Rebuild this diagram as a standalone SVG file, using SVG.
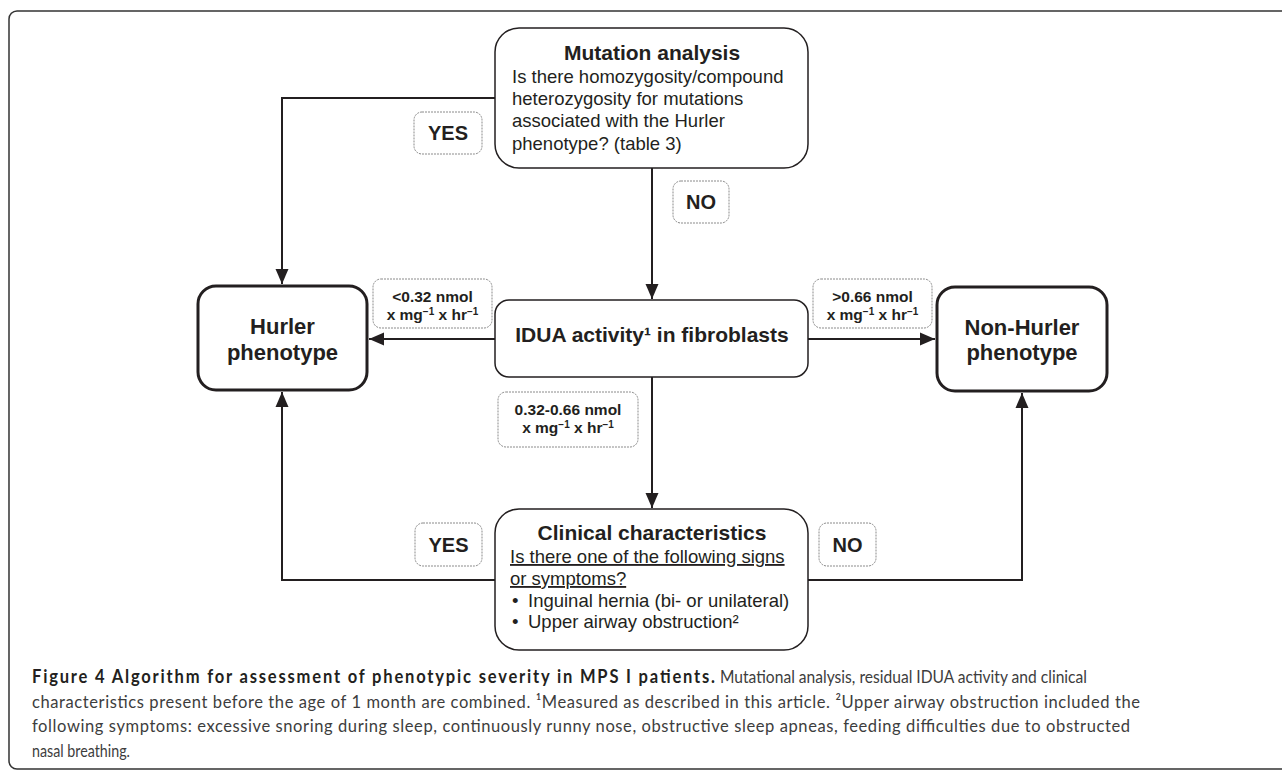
<svg xmlns="http://www.w3.org/2000/svg" width="1282" height="772" viewBox="0 0 1282 772">
<defs>
<style>
.box{fill:#fff;stroke:#231f20;stroke-width:1.5}
.term{fill:#fff;stroke:#231f20;stroke-width:3}
.lab{fill:#fff;stroke:#8a8a8a;stroke-width:1;stroke-dasharray:2 1}
.conn{fill:none;stroke:#231f20;stroke-width:2}
.h{font-family:"Liberation Sans",Arial,Helvetica,sans-serif;font-weight:bold;font-size:21px;fill:#231f20;text-anchor:middle}
.t{font-family:"Liberation Sans",Arial,Helvetica,sans-serif;font-weight:bold;font-size:22px;fill:#231f20;text-anchor:middle}
.b{font-family:"Liberation Sans",Arial,Helvetica,sans-serif;font-size:18.5px;fill:#231f20}
.l{font-family:"Liberation Sans",Arial,Helvetica,sans-serif;font-weight:bold;font-size:15.5px;fill:#231f20;text-anchor:middle}
.yn{font-family:"Liberation Sans",Arial,Helvetica,sans-serif;font-weight:bold;font-size:20px;fill:#231f20;text-anchor:middle}
.cap{font-family:Lato,"Open Sans",sans-serif;font-size:18px;fill:#3d3d3d}
.capb{font-family:Lato,"Open Sans",sans-serif;font-size:18px;font-weight:bold;fill:#231f20}
</style>
<marker id="ah" markerUnits="userSpaceOnUse" markerWidth="16" markerHeight="14" refX="15" refY="7" orient="auto" viewBox="0 0 16 14">
<path d="M0,0.5 L15,7 L0,13.5 z" fill="#231f20"/>
</marker>
</defs>

<rect x="9" y="11" width="1290" height="758" rx="8" fill="none" stroke="#333" stroke-width="1.5"/>

<g id="connectors">
<path class="conn" d="M495,98 H282 V284" marker-end="url(#ah)"/>
<path class="conn" d="M652,168 V299" marker-end="url(#ah)"/>
<path class="conn" d="M495,339 H369" marker-end="url(#ah)"/>
<path class="conn" d="M808,339 H935" marker-end="url(#ah)"/>
<path class="conn" d="M652,377 V508" marker-end="url(#ah)"/>
<path class="conn" d="M495,580 H282 V392" marker-end="url(#ah)"/>
<path class="conn" d="M808,580 H1022 V393" marker-end="url(#ah)"/>
</g>

<g id="label-yes-top">
<rect class="lab" x="414" y="112" width="68" height="42" rx="8"/>
<text class="yn" x="448" y="140">YES</text>
</g>
<g id="label-no-top">
<rect class="lab" x="673" y="181" width="56" height="42" rx="8"/>
<text class="yn" x="701" y="209">NO</text>
</g>
<g id="label-low">
<rect class="lab" x="373" y="279" width="119" height="49" rx="8"/>
<text class="l" x="432.5" y="302">&lt;0.32 nmol</text>
<text class="l" x="432.5" y="320">x mg<tspan font-size="10" dy="-5">−1</tspan><tspan dy="5"> x hr</tspan><tspan font-size="10" dy="-5">−1</tspan></text>
</g>
<g id="label-high">
<rect class="lab" x="813" y="279" width="119" height="49" rx="8"/>
<text class="l" x="872.5" y="302">&gt;0.66 nmol</text>
<text class="l" x="872.5" y="320">x mg<tspan font-size="10" dy="-5">−1</tspan><tspan dy="5"> x hr</tspan><tspan font-size="10" dy="-5">−1</tspan></text>
</g>
<g id="label-mid">
<rect class="lab" x="498" y="392" width="140" height="55" rx="8"/>
<text class="l" x="568" y="415">0.32-0.66 nmol</text>
<text class="l" x="568" y="433">x mg<tspan font-size="10" dy="-5">−1</tspan><tspan dy="5"> x hr</tspan><tspan font-size="10" dy="-5">−1</tspan></text>
</g>
<g id="label-yes-bottom">
<rect class="lab" x="415" y="523" width="67" height="43" rx="8"/>
<text class="yn" x="448.5" y="552">YES</text>
</g>
<g id="label-no-bottom">
<rect class="lab" x="819" y="523" width="57" height="43" rx="8"/>
<text class="yn" x="847.5" y="552">NO</text>
</g>

<g id="mutation">
<rect class="box" x="495" y="28" width="313" height="140" rx="24"/>
<text class="h" x="652" y="60">Mutation analysis</text>
<text class="b" x="512" y="82.5">Is there homozygosity/compound</text>
<text class="b" x="512" y="104.5">heterozygosity for mutations</text>
<text class="b" x="512" y="127">associated with the Hurler</text>
<text class="b" x="512" y="149.5">phenotype? (table 3)</text>
</g>

<g id="idua">
<rect class="box" x="495" y="300" width="313" height="77" rx="14"/>
<text class="h" x="652" y="342">IDUA activity¹ in fibroblasts</text>
</g>

<g id="hurler">
<rect class="term" x="198" y="286" width="169" height="104" rx="18"/>
<text class="t" x="282.5" y="334">Hurler</text>
<text class="t" x="282.5" y="360">phenotype</text>
</g>

<g id="non-hurler">
<rect class="term" x="937" y="287" width="170" height="104" rx="18"/>
<text class="t" x="1022" y="335">Non-Hurler</text>
<text class="t" x="1022" y="360">phenotype</text>
</g>

<g id="clinical">
<rect class="box" x="495" y="509" width="313" height="141" rx="24"/>
<text class="h" x="652" y="540">Clinical characteristics</text>
<text class="b" x="510" y="563" text-decoration="underline">Is there one of the following signs</text>
<text class="b" x="510" y="585" text-decoration="underline">or symptoms?</text>
<text class="b" x="512" y="607">•</text>
<text class="b" x="528" y="607">Inguinal hernia (bi- or unilateral)</text>
<text class="b" x="512" y="628">•</text>
<text class="b" x="528" y="628">Upper airway obstruction²</text>
</g>

<g id="caption" transform="scale(0.92,1)">
<text class="capb" x="34.8" y="683" textLength="742.4" lengthAdjust="spacing">Figure 4 Algorithm for assessment of phenotypic severity in MPS I patients.</text>
<text class="cap" x="782.6" y="683" textLength="398.9" lengthAdjust="spacingAndGlyphs">Mutational analysis, residual IDUA activity and clinical</text>
<text class="cap" x="34.8" y="708" textLength="1204.3" lengthAdjust="spacing">characteristics present before the age of 1 month are combined. ¹Measured as described in this article. ²Upper airway obstruction included the</text>
<text class="cap" x="34.8" y="732" textLength="1193.5" lengthAdjust="spacing">following symptoms: excessive snoring during sleep, continuously runny nose, obstructive sleep apneas, feeding difficulties due to obstructed</text>
<text class="cap" x="34.8" y="757" textLength="106.5" lengthAdjust="spacingAndGlyphs">nasal breathing.</text>
</g>
</svg>
